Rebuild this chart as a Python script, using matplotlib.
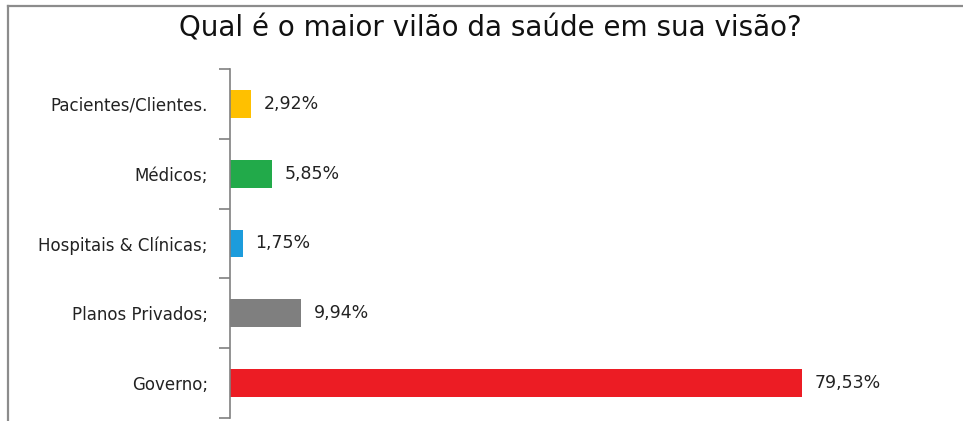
import matplotlib.pyplot as plt
from matplotlib.lines import Line2D

# Data (top to bottom)
categories = ["Pacientes/Clientes.", "Médicos;", "Hospitais & Clínicas;", "Planos Privados;", "Governo;"]
values = [2.92, 5.85, 1.75, 9.94, 79.53]
value_labels = ["2,92%", "5,85%", "1,75%", "9,94%", "79,53%"]
colors = ["#FFC000", "#22AA4A", "#1C9CDC", "#7F7F7F", "#EC1C24"]

fig = plt.figure(figsize=(9.63, 4.21), dpi=100)
ax = fig.add_axes([230 / 963, 3 / 421, 719 / 963, 349 / 421])

y = list(range(len(categories)))
bars = ax.barh(y, values, height=0.4, color=colors)

ax.set_xlim(0, 100)
ax.set_ylim(len(categories) - 0.5, -0.5)

# boundary ticks on the category axis, labels at the centres
ax.set_yticks([i - 0.5 for i in range(len(categories) + 1)])
ax.set_yticklabels([])
ax.tick_params(axis="y", which="major", length=8, width=1.2, color="#808080", direction="out")
ax.set_yticks(y, minor=True)
ax.set_yticklabels(categories, minor=True, fontsize=12, color="#222222")
ax.tick_params(axis="y", which="minor", length=0, pad=16)
ax.set_xticks([])

for side in ["top", "right", "bottom"]:
    ax.spines[side].set_visible(False)
ax.spines["left"].set_color("#808080")
ax.spines["left"].set_linewidth(1.2)

for bar, lab in zip(bars, value_labels):
    ax.annotate(lab, xy=(bar.get_width(), bar.get_y() + bar.get_height() / 2),
                xytext=(9, 0), textcoords="offset points",
                ha="left", va="center", fontsize=12.5, color="#222222")

fig.text(490 / 963, 1 - 36 / 421, "Qual é o maior vilão da saúde em sua visão?",
         ha="center", va="baseline", fontsize=20, color="#111111")

# chart frame (top and left edges visible)
fig.add_artist(Line2D([8 / 963, 1], [1 - 6 / 421, 1 - 6 / 421], transform=fig.transFigure,
                      color="#8C8C8C", lw=1.6))
fig.add_artist(Line2D([8 / 963, 8 / 963], [0, 1 - 6 / 421], transform=fig.transFigure,
                      color="#8C8C8C", lw=1.6))

fig.savefig("out.png", dpi=100)
